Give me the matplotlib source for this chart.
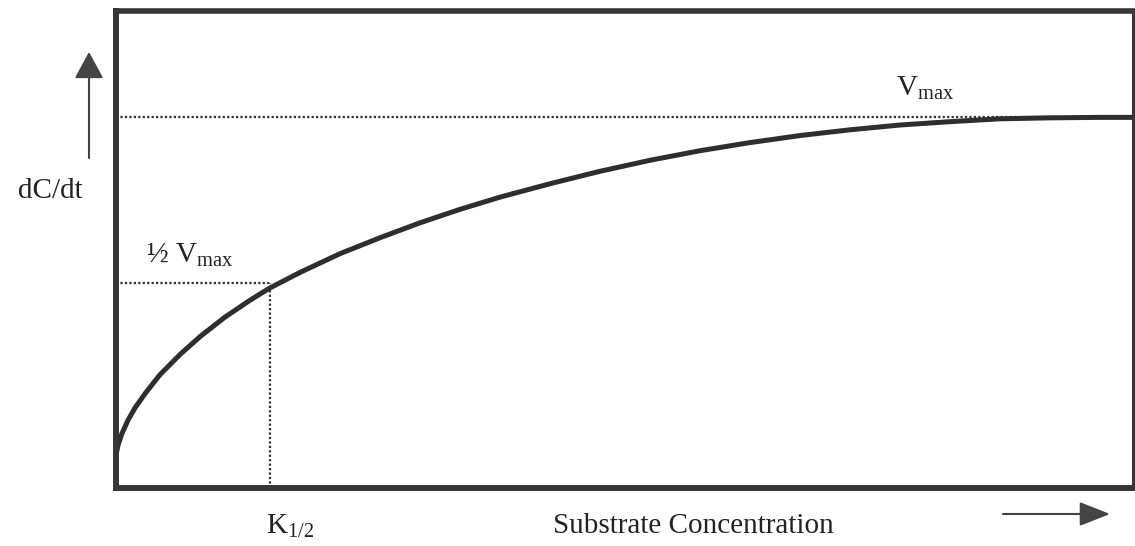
import numpy as np
import matplotlib.pyplot as plt

#curve (substrate conc., rate), arbitrary units 0-100
substrate = [0.0, 0.0, 0.2, 0.6, 1.2, 1.9, 2.9, 4.3, 6.3, 8.3, 10.7, 13.2,
             15.1, 18.1, 22.0, 26.0, 29.9, 33.8, 37.8, 42.7, 47.6, 52.5,
             57.4, 62.3, 67.3, 72.2, 77.1, 82.0, 86.9, 91.8, 96.8, 100]
rate = [3.4, 6.9, 9.0, 11.5, 14.3, 16.9, 19.9, 23.7, 28.0, 31.8, 35.8, 39.4,
        41.9, 45.2, 49.1, 52.5, 55.6, 58.4, 61.0, 63.8, 66.4, 68.7,
        70.7, 72.4, 73.9, 75.1, 76.1, 76.8, 77.4, 77.6, 77.7, 77.7]
v_max = 77.7
half_v = 43.0
k_half = 15.1

plt.rcParams['font.family'] = ['Liberation Serif', 'DejaVu Serif']
plt.rcParams['mathtext.fontset'] = 'custom'
plt.rcParams['mathtext.rm'] = 'Liberation Serif'

W, H = 1135, 546
fig = plt.figure(figsize=(W/100, H/100), dpi=100)
ax = fig.add_axes([116/W, (H-488)/H, 1017/W, 477/H])
ax.set_xlim(0, 100)
ax.set_ylim(0, 100)
ax.set_xticks([])
ax.set_yticks([])
for side in ['left', 'bottom']:
    ax.spines[side].set_linewidth(4.3)
ax.spines['top'].set_linewidth(4.0)
ax.spines['right'].set_linewidth(2.2)
for sp in ax.spines.values():
    sp.set_color('#363636')

#dotted guide lines
ax.plot([0, 100], [v_max, v_max], ls=(0, (1, 1)), lw=1.6, color='#333333')
ax.plot([0, k_half], [half_v, half_v], ls=(0, (1, 1)), lw=1.6, color='#333333')
ax.plot([k_half, k_half], [0, half_v], ls=(0, (1, 1)), lw=1.6, color='#333333')

#saturation curve
ax.plot(substrate, rate, lw=3.6, color='#2e2e2e', solid_capstyle='round',
        solid_joinstyle='round')

#labels
c = '#222222'
fig.text(50, H-191, 'dC/dt', fontsize=21, color=c, ha='center', va='center',
         transform=None)
fig.text(190, H-262, r'½ V$_{\mathrm{max}}$', fontsize=21, color=c,
         ha='center', va='baseline', transform=None)
fig.text(925, H-95, r'V$_{\mathrm{max}}$', fontsize=21, color=c,
         ha='center', va='baseline', transform=None)
fig.text(290, H-533, r'K$_{\mathrm{1/2}}$', fontsize=21, color=c,
         ha='center', va='baseline', transform=None)
fig.text(693, H-533, 'Substrate Concentration', fontsize=21, color=c,
         ha='center', va='baseline', transform=None)

#arrows
ax.annotate('', xy=(89, H-52), xytext=(89, H-158), xycoords='figure pixels',
            textcoords='figure pixels',
            arrowprops=dict(arrowstyle='-|>,head_length=1.65,head_width=0.9',
                            mutation_scale=10, lw=1.5, color='#444444',
                            shrinkA=0, shrinkB=0))
ax.annotate('', xy=(1110, H-514), xytext=(1003, H-514), xycoords='figure pixels',
            textcoords='figure pixels',
            arrowprops=dict(arrowstyle='-|>,head_length=1.9,head_width=0.75',
                            mutation_scale=10, lw=1.5, color='#444444',
                            shrinkA=0, shrinkB=0))

fig.savefig('out.png', dpi=100)
